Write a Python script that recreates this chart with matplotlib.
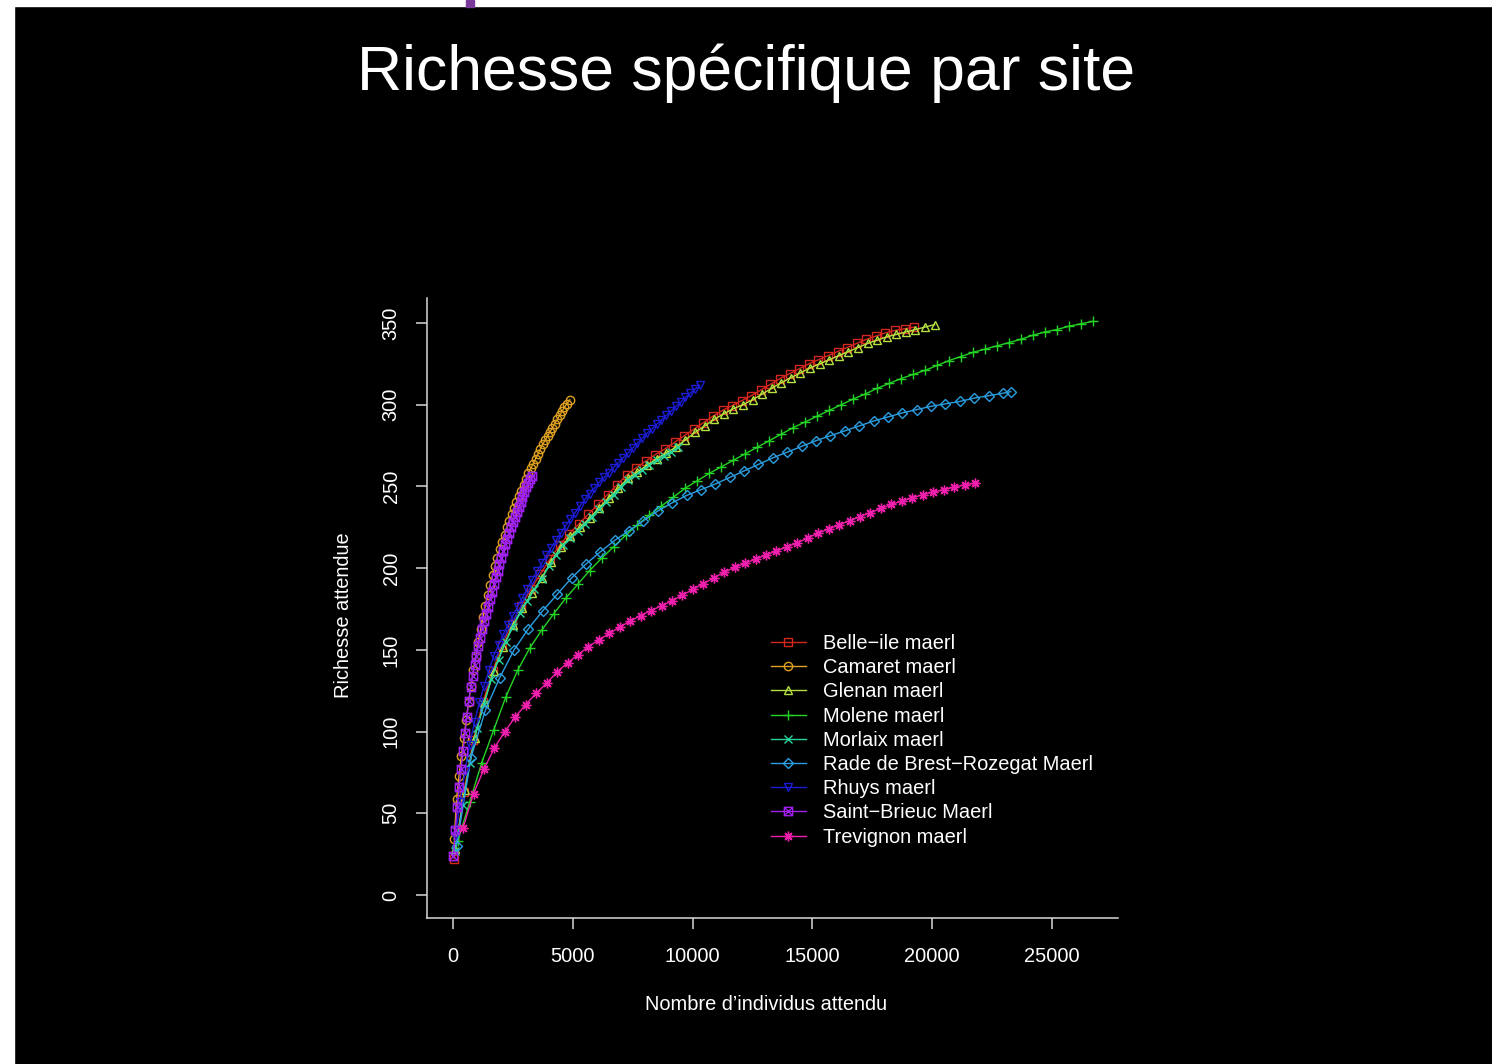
import matplotlib
matplotlib.use('Agg')
import matplotlib.pyplot as plt
from matplotlib.path import Path
from matplotlib.patches import Rectangle

plt.rcParams['font.family'] = ['Liberation Sans', 'DejaVu Sans']

# --- data (sample size -> expected richness) ---
belle_x = [50, 450, 850, 1250, 1650, 2050, 2450, 2850, 3250, 3650, 4050, 4450, 4850, 5250, 5650,
           6050, 6450, 6850, 7250, 7650, 8050, 8450, 8850, 9250, 9650, 10050, 10450, 10850, 11250,
           11650, 12050, 12450, 12850, 13250, 13650, 14050, 14450, 14850, 15250, 15650, 16050,
           16450, 16850, 17250, 17650, 18050, 18450, 18850, 19250]
belle_y = [22, 63, 95, 118, 137, 153, 166, 177, 187, 196.5, 205.5, 214, 221, 227, 233,
           239, 245, 251, 257, 261.5, 265.5, 269.5, 273, 277, 281, 285, 289, 293, 296.5,
           299.5, 302.5, 305.5, 309, 312.5, 316, 319, 322, 325, 327.5, 330, 332.5,
           335, 337.5, 340, 342, 344, 345.5, 346.5, 347.5]

camaret_x = [50, 150, 250, 350, 450, 550, 650, 750, 850, 950, 1050, 1150, 1250, 1350, 1450, 1550,
             1650, 1750, 1850, 1950, 2050, 2150, 2250, 2350, 2450, 2550, 2650, 2750, 2850, 2950,
             3050, 3150, 3250, 3350, 3450, 3550, 3650, 3750, 3850, 3950, 4050, 4150, 4250, 4350,
             4450, 4550, 4650, 4750, 4880]
camaret_y = [34, 59, 73, 85, 96, 107, 118, 128, 137.5, 146, 154.5, 162.5, 170, 177, 183.5, 189.5,
             195.5, 201, 206.5, 211.5, 216, 220.5, 225, 229, 233, 237, 240.5, 244, 247.5, 251,
             254.5, 258, 261, 264, 267, 270, 273, 276, 278.5, 281, 283.5, 286, 288.5, 291,
             293.5, 296, 298.5, 300.5, 303]

glenan_x = [100, 500, 900, 1300, 1700, 2100, 2500, 2900, 3300, 3700, 4100, 4500, 4900, 5300, 5700,
            6100, 6500, 6900, 7300, 7700, 8100, 8500, 8900, 9300, 9700, 10100, 10500, 10900, 11300,
            11700, 12100, 12500, 12900, 13300, 13700, 14100, 14500, 14900, 15300, 15700, 16100,
            16500, 16900, 17300, 17700, 18100, 18500, 18900, 19300, 19700, 20100]
glenan_y = [28, 64, 96, 118, 137, 152, 165, 175.5, 185, 194, 204, 213, 219.5, 225, 230.5,
            237, 243, 249, 255, 259, 263, 267, 270.5, 274, 278.5, 283, 287, 291, 294.5,
            297.5, 300, 303, 306.5, 310, 313.5, 316.5, 319.5, 322.5, 325, 327.5, 330,
            332.5, 335, 337.5, 339.5, 341.5, 343, 344.5, 346, 347.5, 349]

molene_x = [200, 700, 1200, 1700, 2200, 2700, 3200, 3700, 4200, 4700, 5200, 5700, 6200, 6700, 7200,
            7700, 8200, 8700, 9200, 9700, 10200, 10700, 11200, 11700, 12200, 12700, 13200, 13700,
            14200, 14700, 15200, 15700, 16200, 16700, 17200, 17700, 18200, 18700, 19200, 19700,
            20200, 20700, 21200, 21700, 22200, 22700, 23200, 23700, 24200, 24700, 25200, 25700,
            26200, 26700]
molene_y = [33, 57, 81, 101, 121, 137.5, 151, 162, 172, 181.5, 190, 198.5, 206, 213, 220,
            226.5, 232.5, 238, 243.5, 249, 253.5, 258, 262, 266, 270, 274, 278, 282,
            286, 289.5, 293, 296.5, 300, 303.5, 306.5, 310, 313, 316, 318.5, 321,
            324, 327, 329.5, 332, 334, 336, 338, 340, 342.5, 344.5, 346, 348,
            349.5, 351]

morlaix_x = [100, 400, 700, 1000, 1300, 1600, 1900, 2200, 2500, 2800, 3100, 3400, 3700, 4000, 4300,
             4600, 4900, 5200, 5500, 5800, 6100, 6400, 6700, 7000, 7300, 7600, 7900, 8200, 8500,
             8800, 9100, 9400]
morlaix_y = [27, 55, 81, 102, 117, 132, 144, 155, 164, 172.5, 180, 187, 193.5, 201, 208,
             214, 218.5, 223, 227, 231.5, 236, 240.5, 245, 249.5, 254, 257, 260, 263, 266,
             268.5, 271, 274]

rade_x = [150, 750, 1350, 1950, 2550, 3150, 3750, 4350, 4950, 5550, 6150, 6750, 7350, 7950, 8550,
          9150, 9750, 10350, 10950, 11550, 12150, 12750, 13350, 13950, 14550, 15150, 15750, 16350,
          16950, 17550, 18150, 18750, 19350, 19950, 20550, 21150, 21750, 22350, 22950, 23280]
rade_y = [30, 84, 113, 133, 150, 163, 174, 184, 194, 202.5, 210, 217, 223, 229, 235,
          240, 244.5, 248, 251.5, 255.5, 259.5, 263.5, 267.5, 271, 274.5, 278, 281, 284,
          287, 290, 292.5, 295, 297, 299, 300.5, 302, 304, 305.5, 307, 308]

rhuys_x = [100, 300, 500, 700, 900, 1100, 1300, 1500, 1700, 1900, 2100, 2300, 2500, 2700, 2900,
           3100, 3300, 3500, 3700, 3900, 4100, 4300, 4500, 4700, 4900, 5100, 5300, 5500, 5700,
           5900, 6100, 6300, 6500, 6700, 6900, 7100, 7300, 7500, 7700, 7900, 8100, 8300, 8500,
           8700, 8900, 9100, 9300, 9500, 9700, 9900, 10100, 10300]
rhuys_y = [36, 57, 76, 92, 106, 118, 128, 137.5, 146.5, 153, 159.5, 165.5, 171, 176.5, 182,
           187.5, 193, 198, 203, 208, 212.5, 217, 221.5, 226, 230, 234, 238, 242, 245.5,
           249, 252.5, 255.5, 258.5, 261.5, 264.5, 267.5, 270.5, 273.5, 276.5, 279.5, 282.5, 285, 288,
           290.5, 293.5, 296, 299, 301.5, 304.5, 307, 309.5, 312]

brieuc_x = [20, 100, 180, 260, 340, 420, 500, 580, 660, 740, 820, 900, 980, 1060, 1140, 1220, 1300,
            1380, 1460, 1540, 1620, 1700, 1780, 1860, 1940, 2020, 2100, 2180, 2260, 2340, 2420,
            2500, 2580, 2660, 2740, 2820, 2900, 2980, 3060, 3140, 3220, 3285]
brieuc_y = [24, 40, 54, 66, 77, 88, 99, 109, 118.5, 127, 134, 140.5, 146.5, 152.5, 157.5, 162.5, 167.5,
            172, 176.5, 181, 185.5, 190, 194.5, 198.5, 202.5, 206.5, 210.5, 214.5, 218, 221.5, 225,
            228.5, 231.5, 234.5, 237.5, 240.5, 243.5, 246.5, 249.5, 252, 254.5, 256.5]

trev_x = [420, 856, 1292, 1728, 2164, 2600, 3036, 3472, 3908, 4344, 4780, 5216, 5652, 6088, 6524,
          6960, 7396, 7832, 8268, 8704, 9140, 9576, 10012, 10448, 10884, 11320, 11756, 12192, 12628,
          13064, 13500, 13936, 14372, 14808, 15244, 15680, 16116, 16552, 16988, 17424, 17860, 18296,
          18732, 19168, 19604, 20040, 20476, 20912, 21348, 21784]
trev_y = [41, 62, 77, 90, 100, 109, 116.5, 123.5, 129.5, 136.5, 142, 147, 152, 156, 160,
          164, 167.5, 171, 174, 177, 180, 183.5, 187, 190.5, 194, 197.5, 200.5, 203, 205.5,
          208, 210.5, 213, 215.5, 218.5, 221.5, 224, 226.5, 229, 231.5, 234, 236.5, 239,
          241, 243, 245, 246.5, 248, 249.5, 251, 252]

sites = ['Belle\u2212ile maerl', 'Camaret maerl', 'Glenan maerl', 'Molene maerl', 'Morlaix maerl',
         'Rade de Brest\u2212Rozegat Maerl', 'Rhuys maerl', 'Saint\u2212Brieuc Maerl', 'Trevignon maerl']
xs = [belle_x, camaret_x, glenan_x, molene_x, morlaix_x, rade_x, rhuys_x, brieuc_x, trev_x]
ys = [belle_y, camaret_y, glenan_y, molene_y, morlaix_y, rade_y, rhuys_y, brieuc_y, trev_y]

xticks = [0, 5000, 10000, 15000, 20000, 25000]
yticks = [0, 50, 100, 150, 200, 250, 300, 350]

# R pch 7: square with a cross inside
sqx = Path([(-1, -1), (1, -1), (1, 1), (-1, 1), (-1, -1), (-1, -1), (1, 1), (-1, 1), (1, -1)],
           [Path.MOVETO, Path.LINETO, Path.LINETO, Path.LINETO, Path.CLOSEPOLY,
            Path.MOVETO, Path.LINETO, Path.MOVETO, Path.LINETO])
markers = ['s', 'o', '^', '+', 'x', 'D', 'v', sqx, (8, 2, 0)]
msizes = [5.5, 6, 6, 7, 6, 5.5, 6, 6, 7]
colors = ['#d4281e', '#e0a020', '#b4e040', '#24d424', '#28d49c', '#2a9ee0', '#1c1cd4', '#a020f0', '#f020ac']

fig = plt.figure(figsize=(14.92, 10.64), dpi=100, facecolor='black')
# slide frame remnants
fig.patches.append(Rectangle((0, 1 - 6 / 1064), 1, 6 / 1064, transform=fig.transFigure,
                             color='white', zorder=0))
fig.patches.append(Rectangle((0, 0), 14 / 1492, 1, transform=fig.transFigure,
                             color='white', zorder=0))
fig.patches.append(Rectangle((466 / 1492, 1 - 7 / 1064), 8 / 1492, 7 / 1064, transform=fig.transFigure,
                             color='#7a3a9a', zorder=1))

ax = fig.add_axes([427 / 1492, 146 / 1064, 691 / 1492, 620 / 1064])
ax.set_facecolor('black')

for i in range(len(sites)):
    ax.plot(xs[i], ys[i], color=colors[i], marker=markers[i], markersize=msizes[i],
            markerfacecolor='none', markeredgewidth=1.0, linewidth=1.0, label=sites[i])

ax.set_xlim(-1085, 27754)
ax.set_ylim(-14.1, 365.3)
ax.set_xticks(xticks)
ax.set_yticks(yticks)
ax.set_yticklabels([str(v) for v in yticks], rotation=90, va='center')

for s in ['top', 'right']:
    ax.spines[s].set_visible(False)
for s in ['left', 'bottom']:
    ax.spines[s].set_color('#d8d8d8')
    ax.spines[s].set_linewidth(1.1)
ax.tick_params(colors='#d8d8d8', labelcolor='white', labelsize=14.4, length=8, width=1.1, direction='out')
ax.tick_params(axis='x', pad=13)
ax.tick_params(axis='y', pad=11)

ax.set_xlabel('Nombre d\u2019individus attendu', color='white', fontsize=14.4, va='center')
ax.xaxis.set_label_coords((766 - 427) / 691, (918 - 1004) / 620)
ax.set_ylabel('Richesse attendue', color='white', fontsize=14.4, va='center')
ax.yaxis.set_label_coords((343 - 427) / 691, (918 - 615) / 620)

leg = ax.legend(loc='upper left', bbox_to_anchor=(771 / 1492, 1 - 634 / 1064), bbox_transform=fig.transFigure,
                frameon=False, fontsize=14.4, handlelength=1.75, handletextpad=0.85, labelspacing=0.26,
                borderpad=0, borderaxespad=0, numpoints=1)
for t in leg.get_texts():
    t.set_color('white')

fig.text(746 / 1492, 1 - 90 / 1064, 'Richesse sp\u00e9cifique par site', color='white', fontsize=45,
         ha='center', va='baseline')

fig.savefig('out.png', dpi=100, facecolor='black')
